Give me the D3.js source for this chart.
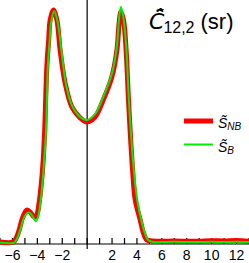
<!DOCTYPE html>
<html><head><meta charset="utf-8">
<script src="https://cdn.jsdelivr.net/npm/d3@7"></script>
<style>body{margin:0;background:#fff}svg{display:block}text{font-family:"Liberation Sans",Arial,sans-serif}</style>
</head><body>
<script>
const xTicks = [-7,-6,-5,-4,-3,-2,-1,0,1,2,3,4,5,6,7,8,9,10,11,12,13];
const xTickLabels = [-6,-4,-2,2,4,6,8,10,12];

const redX = [-7.00,-5.94,-5.70,-5.46,-5.22,-4.98,-4.82,-4.58,-4.34,-4.18,-4.02,-3.86,-3.69,-3.53,-3.41,-3.24,-3.09,-2.97,-2.71,-2.43,-2.17,-1.77,-1.23,-0.56,0,0.64,1.29,1.98,2.39,2.59,2.71,2.92,3.13,3.32,3.45,3.65,3.86,4.26,4.52,4.80,5.22,6,7,8,9,10,11,12,13];
const redY = [0.004,0.004,0.021,0.056,0.103,0.133,0.142,0.133,0.116,0.112,0.124,0.172,0.249,0.356,0.485,0.755,0.871,0.957,1.000,0.957,0.828,0.687,0.584,0.537,0.519,0.541,0.614,0.712,0.828,0.957,0.991,0.957,0.828,0.614,0.485,0.313,0.185,0.099,0.043,0.013,0.009,0.007,0.009,0.007,0.008,0.010,0.009,0.011,0.008];

const greenX = [-7.00,-5.86,-5.62,-5.38,-5.14,-4.90,-4.70,-4.50,-4.26,-4.10,-3.94,-3.78,-3.61,-3.45,-3.29,-3.17,-3.01,-2.89,-2.65,-2.37,-2.05,-1.69,-1.20,-0.56,0,0.64,1.29,1.98,2.37,2.57,2.71,2.89,3.13,3.33,3.49,3.73,4.02,4.38,4.66,4.90,5.30,6,7,8,9,10,11,12,13];
const greenY = [0.002,0.002,0.021,0.056,0.099,0.124,0.131,0.124,0.103,0.094,0.112,0.163,0.245,0.356,0.494,0.742,0.871,0.948,0.996,0.948,0.820,0.678,0.588,0.541,0.528,0.554,0.627,0.725,0.837,0.966,1.013,0.974,0.850,0.635,0.494,0.322,0.185,0.090,0.039,0.013,0.004,0.004,0.005,0.004,0.004,0.005,0.004,0.005,0.004];

const W = 249, H = 263;
const svg = d3.select("body").append("svg").attr("width", W).attr("height", H);
const x = d3.scaleLinear().domain([-7, 13]).range([0, 249]);
const y = d3.scaleLinear().domain([0, 1]).range([243, 10]);
const axisY = 244;

svg.append("line").attr("x1", x(0)).attr("x2", x(0)).attr("y1", 0).attr("y2", 249)
  .attr("stroke", "#000").attr("stroke-width", 1.2);

const ax = svg.append("g").attr("transform", `translate(0,${axisY})`);
ax.append("line").attr("x1", 0).attr("x2", W).attr("stroke", "#000").attr("stroke-width", 1.2);
ax.selectAll("line.t").data(xTicks).enter().append("line").attr("class", "t")
  .attr("x1", d => x(d)).attr("x2", d => x(d)).attr("y1", 0).attr("y2", -6)
  .attr("stroke", "#000").attr("stroke-width", 1.2);
ax.selectAll("text").data(xTickLabels).enter().append("text")
  .attr("x", d => x(d)).attr("y", 16).attr("text-anchor", "middle")
  .attr("font-size", 14).text(d => d < 0 ? "\u2212" + Math.abs(d) : String(d));

const line = d3.line().curve(d3.curveCatmullRom.alpha(0.5)).x(d => x(d[0])).y(d => y(d[1]));
svg.append("path").datum(d3.zip(redX, redY)).attr("d", line)
  .attr("fill", "none").attr("stroke", "#ff0000").attr("stroke-width", 5).attr("stroke-linejoin", "round");
svg.append("path").datum(d3.zip(greenX, greenY)).attr("d", line)
  .attr("fill", "none").attr("stroke", "#00ee00").attr("stroke-width", 2).attr("stroke-linejoin", "round");

// title: C with stacked combining tilde + hat, subscript, unit
const t = svg.append("text").attr("x", 149).attr("y", 29).attr("font-size", 23);
t.append("tspan").attr("font-style", "italic").style("font-family", "'DejaVu Sans'").attr("font-size", 22).text("C\u0303\u0302");
t.append("tspan").attr("font-size", 16).attr("dy", 4).attr("dx", -1).text("12,2");
t.append("tspan").attr("font-size", 22).attr("dy", -4).attr("dx", 6).text("(sr)");

// legend
const legend = [
  {label: "NB", color: "#ff0000", w: 5, y: 121},
  {label: "B", color: "#00ee00", w: 2, y: 144.5}
];
legend.forEach(l => {
  svg.append("line").attr("x1", 184).attr("x2", 213).attr("y1", l.y).attr("y2", l.y)
    .attr("stroke", l.color).attr("stroke-width", l.w);
  const lt = svg.append("text").attr("x", 218).attr("y", l.y + 7).attr("font-size", 14).attr("font-style", "italic");
  lt.append("tspan").text("S\u0303");
  lt.append("tspan").attr("font-size", 10).attr("dy", 2).text(l.label);
});
</script>
</body></html>
